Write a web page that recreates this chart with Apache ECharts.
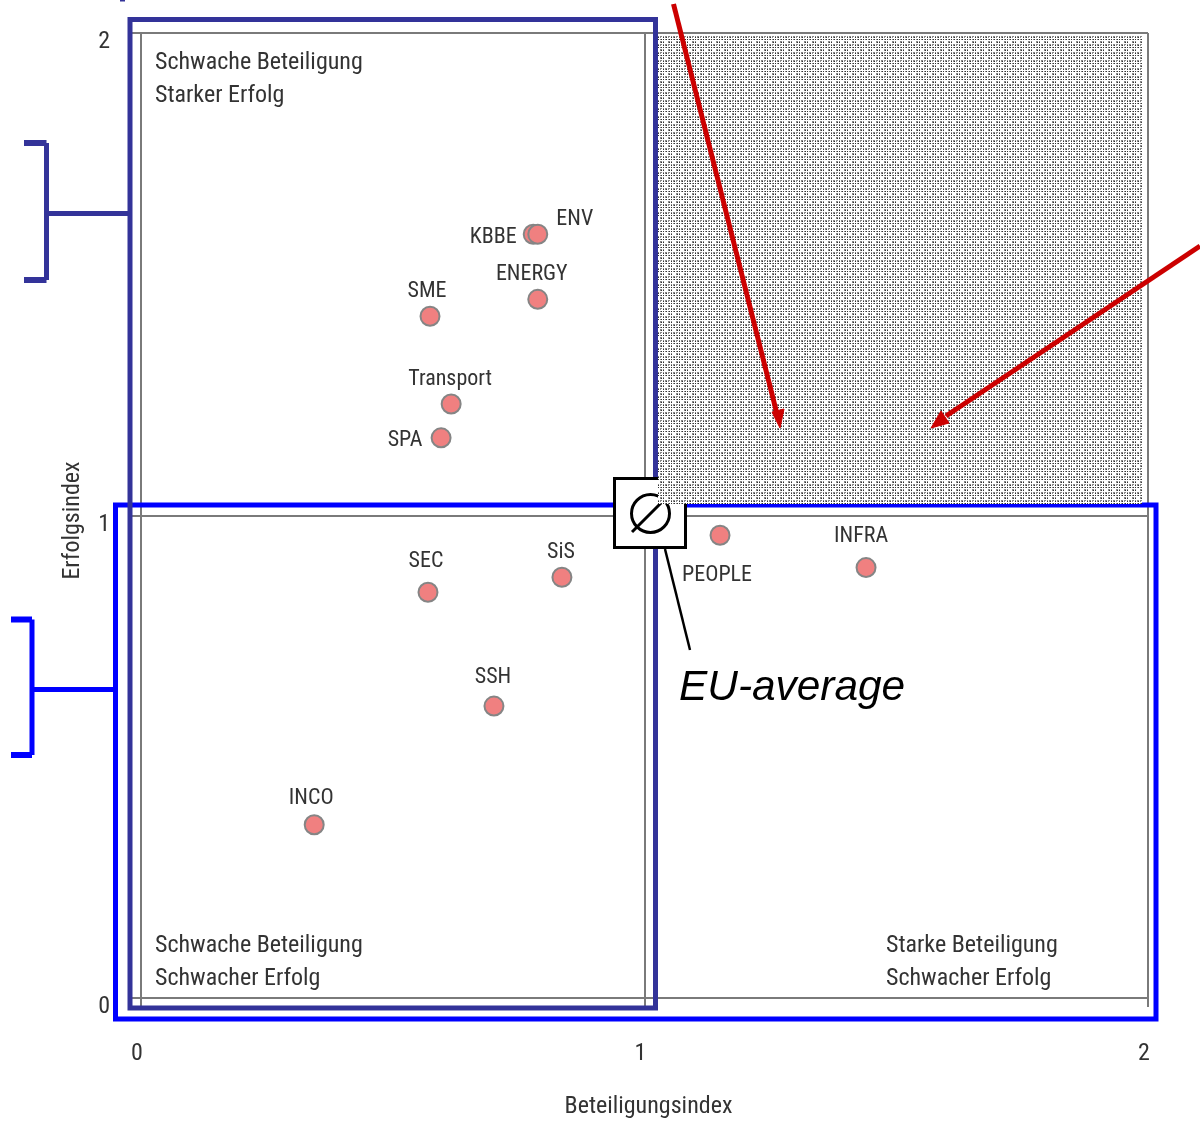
<!DOCTYPE html>
<html><head><meta charset="utf-8">
<script src="https://cdn.jsdelivr.net/npm/echarts@6/dist/echarts.min.js"></script>
<style>html,body{margin:0;padding:0;background:#fff}#c{width:1200px;height:1122px}</style>
</head><body><div id="c"></div>
<script>
const programmes = ['KBBE','ENV','ENERGY','SME','Transport','SPA','SEC','SiS','SSH','INCO','PEOPLE','INFRA'];
const participation = [0.779,0.788,0.788,0.574,0.616,0.596,0.570,0.836,0.701,0.344,1.150,1.440];
const success = [1.583,1.583,1.448,1.413,1.231,1.161,0.841,0.872,0.605,0.359,0.959,0.892];
const labelOffsets = [[-40,3],[37,-15],[-6,-25],[-3,-25],[-1,-25],[-36,3],[-2,-31],[-1,-25],[-1,-29],[-3,-26],[-3,40],[-5,-31]];
const FONT = '"Liberation Sans Narrow","Roboto Condensed","Liberation Sans",sans-serif';
const TXT = '#333333', FRAME = '#7a7a7a', NAVY = '#333399', BLUE = '#0000ff', RED = '#cc0000';

const chart = echarts.init(document.getElementById('c'), null, {renderer:'canvas'});
const axisCommon = {
  type:'value', min:0, max:2, interval:1,
  axisLine:{show:true,lineStyle:{color:FRAME,width:2}},
  axisTick:{show:true,length:9,lineStyle:{color:FRAME,width:2}},
  splitLine:{show:true,lineStyle:{color:FRAME,width:2}},
  nameLocation:'middle'
};
chart.setOption({
  backgroundColor:'#fff',
  animation:false,
  grid:{left:141,top:33,width:1007,height:965,outerBoundsMode:'none',containLabel:false},
  xAxis:Object.assign({},axisCommon,{
    name:'Beteiligungsindex', nameGap:97, nameTextStyle:{fontFamily:FONT,fontSize:24,color:TXT,padding:[0,0,0,8]},
    axisLabel:{fontFamily:FONT,fontSize:24,color:TXT,margin:44,padding:[0,8,0,0],formatter:v=>String(v)}
  }),
  yAxis:Object.assign({},axisCommon,{
    name:'Erfolgsindex', nameGap:56, nameTextStyle:{fontFamily:FONT,fontSize:24,color:TXT,padding:[0,0,0,-10]},
    axisLabel:{fontFamily:FONT,fontSize:24,color:TXT,margin:31,verticalAlign:'top',lineHeight:18,formatter:v=>String(v)}
  }),
  series:[{
    type:'scatter', symbol:'circle', symbolSize:19,
    itemStyle:{color:'#f08080',borderColor:'#858585',borderWidth:2,opacity:1},
    data:programmes.map((n,i)=>({
      name:n, value:[participation[i],success[i]],
      label:{show:true,position:'inside',formatter:n,offset:labelOffsets[i],
        fontFamily:FONT,fontSize:22,color:TXT}
    }))
  }]
});

// dotted screen used for the upper-right quadrant
function screenTile(){
  const c=document.createElement('canvas'); c.width=8; c.height=8;
  const g=c.getContext('2d'); g.fillStyle='#ffffff'; g.fillRect(0,0,8,8);
  for(const y of [1,2,4,5,7]) for(const x of [1,2,4,5,7]){
    if((x===1||x===2)&&(y===1||y===2)) continue;
    if(x===5&&y===5) continue;
    const dark=(x===2||x===5||x===7)&&(y===2||y===5||y===7);
    g.fillStyle=dark?'#333333':'#888888';
    g.fillRect(x,y,1,1);
  }
  return c;
}
const ln=(x1,y1,x2,y2,color,w,z)=>({type:'line',z,silent:true,shape:{x1,y1,x2,y2},style:{stroke:color,lineWidth:w}});
const rc=(x,y,width,height,color,w,z,fill)=>({type:'rect',z,silent:true,shape:{x,y,width,height},style:{stroke:color,lineWidth:w,fill:fill||'transparent'}});
const tx=(x,y,text,z,extra)=>({type:'text',z,silent:true,x,y,style:Object.assign({text,font:'24px '+FONT,fill:TXT,textAlign:'left',textVerticalAlign:'middle'},extra||{})});
const head=(pts,z)=>({type:'polygon',z,silent:true,shape:{points:pts},style:{fill:RED,stroke:RED,lineWidth:1}});

const a=chart.convertToPixel({xAxisIndex:0,yAxisIndex:0},[1.0268,1.996]);
const b=chart.convertToPixel({xAxisIndex:0,yAxisIndex:0},[1.988,1.0238]);
chart.setOption({graphic:{elements:[
  rc(115.5,505,1040.5,514,BLUE,5,10),
  rc(130,19.5,525.5,988.5,NAVY,5,11),
  ln(122.5,0,122.5,1.5,NAVY,5,10),
  ln(24,143,46.5,143,NAVY,6,10), ln(24,280,46.5,280,NAVY,6,10),
  ln(46.5,143,46.5,280,NAVY,5,10), ln(46.5,213.5,128,213.5,NAVY,5,10),
  ln(11,619.5,32,619.5,BLUE,6,10), ln(11,755,32,755,BLUE,6,10),
  ln(32,619.5,32,755,BLUE,5,10), ln(32,689.5,116,689.5,BLUE,5,10),
  rc(614.5,478.5,71,69,'#000000',3,12,'#ffffff'),
  {type:'circle',z:13,silent:true,shape:{cx:650.5,cy:513.5,r:19},style:{stroke:'#000000',lineWidth:3,fill:'transparent'}},
  ln(632,532,669,495,'#000000',3,13),
  ln(665,549,690,650,'#000000',2.5,13),
  {type:'rect',z:14,silent:true,shape:{x:a[0],y:a[1],width:b[0]-a[0],height:b[1]-a[1]},style:{fill:{image:screenTile(),repeat:'repeat'}}},
  ln(673.5,4,776.5,412,RED,5,15),
  head([[780,428],[772,412],[784,409]],15),
  ln(1200,246,946,416,RED,5,15),
  head([[931,428],[941,411],[949,423]],15),
  tx(155,63,'Schwache Beteiligung',16), tx(155,96,'Starker Erfolg',16),
  tx(155,946,'Schwache Beteiligung',16), tx(155,979,'Schwacher Erfolg',16),
  tx(886,946,'Starke Beteiligung',16), tx(886,979,'Schwacher Erfolg',16),
  tx(679,688,'EU-average',16,{font:'italic 42.4px "Liberation Sans",Arial,sans-serif',fill:'#000000'})
]}});
</script></body></html>
